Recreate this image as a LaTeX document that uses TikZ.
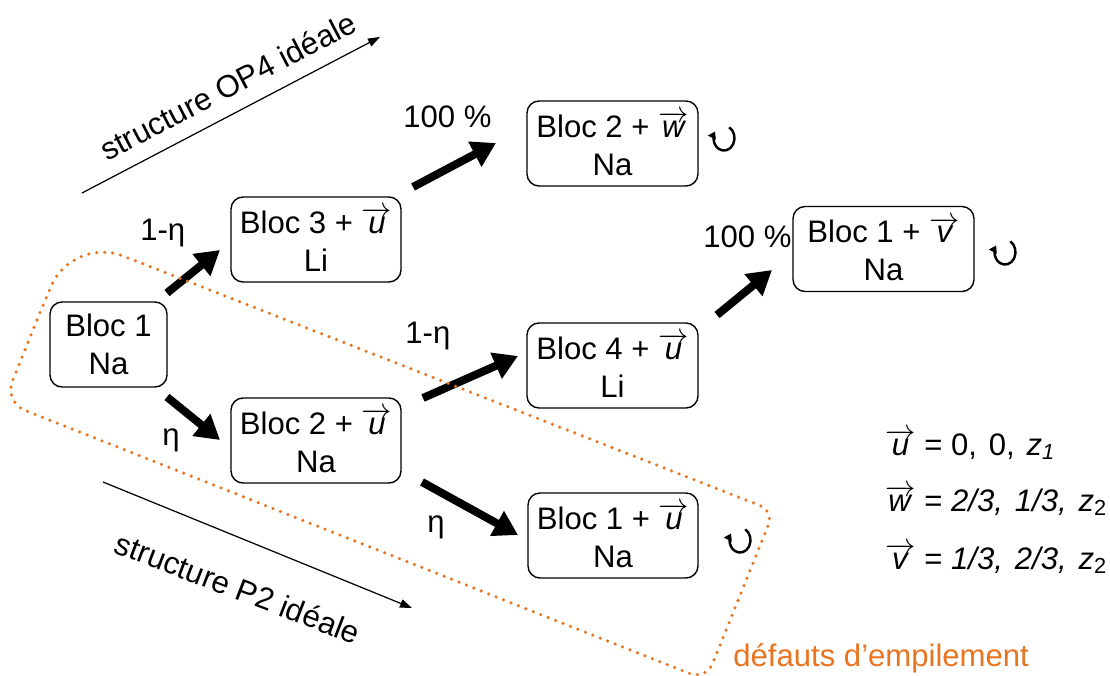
\documentclass[tikz,border=0pt]{standalone}
\usepackage{fontspec}
\setmainfont{Liberation Sans}
\usetikzlibrary{arrows.meta,calc}
\definecolor{defcol}{RGB}{232,116,32}
\newcommand{\vv}[1]{\ensuremath{\overrightarrow{\textit{#1}}}}
\newcommand{\lv}[1]{\ensuremath{\overrightarrow{\makebox[0.95em]{\textit{#1}}}}}
\newcommand{\sep}{,\hspace{0.38em}}
\newcommand{\rotsym}[1]{\draw[symline] ([shift={(0.105cm,0.215cm)}]#1) arc[start angle=60,end angle=-212,x radius=0.21cm,y radius=0.25cm];}
\begin{document}
\begin{tikzpicture}[x=0.02cm,y=-0.02cm,
  every node/.style={font=\fontsize{17.7pt}{21.5pt}\selectfont, inner sep=0pt},
  bloc/.style={draw, line width=0.8pt, rounded corners=0.24cm, minimum height=1.7cm, align=center},
  bigarrow/.style={line width=0.16cm, -{Triangle[length=0.48cm,width=0.54cm]}},
  thinarrow/.style={line width=0.7pt, -{Triangle[length=0.24cm,width=0.17cm]}},
  symline/.style={line width=1.4pt, -{Triangle[length=0.14cm,width=0.17cm]}},
  lbl/.style={anchor=base west}]
\useasboundingbox (0,0) rectangle (1110,676);

% boxes
\node[bloc, minimum width=2.34cm] (b1) at (108.5,344.5) {Bloc 1\\Na};
\node[bloc, minimum width=3.4cm] (b3) at (316,239.5) {Bloc 3 + \vv{u}\\Li};
\node[bloc, minimum width=3.4cm] (b2u) at (316,440.5) {Bloc 2 + \vv{u}\\Na};
\node[bloc, minimum width=3.42cm] (b2w) at (612.5,143.5) {Bloc 2 + \vv{w}\\Na};
\node[bloc, minimum width=3.42cm] (b4) at (612.5,365.5) {Bloc 4 + \vv{u}\\Li};
\node[bloc, minimum width=3.4cm] (b1u) at (613,535.5) {Bloc 1 + \vv{u}\\Na};
\node[bloc, minimum width=3.62cm] (b1v) at (883.5,249) {Bloc 1 + \vv{v}\\Na};

% big arrows
\coordinate (a1s) at (167,293); \coordinate (a1e) at (220,250);
\coordinate (a2s) at (167,397); \coordinate (a2e) at (220,440);
\coordinate (a3s) at (413,187); \coordinate (a3e) at (496,143);
\coordinate (a4s) at (423,398); \coordinate (a4e) at (518,356);
\coordinate (a5s) at (422,482); \coordinate (a5e) at (518,535);
\coordinate (a6s) at (717,315); \coordinate (a6e) at (772,270);
\draw[bigarrow] (a1s) -- (a1e);
\draw[bigarrow] (a2s) -- (a2e);
\draw[bigarrow] (a3s) -- (a3e);
\draw[bigarrow] (a4s) -- (a4e);
\draw[bigarrow] (a5s) -- (a5e);
\draw[bigarrow] (a6s) -- (a6e);

% labels
\node[lbl] (l1) at (140,240) {1-η};
\node[lbl] (l2) at (162,445) {η};
\node[lbl] (l3) at (403,127) {100 \%};
\node[lbl] (l4) at (405,343) {1-η};
\node[lbl] (l5) at (427,532) {η};
\node[lbl] (l6) at (703,247) {100 \%};

% rotation symbols
\coordinate (s1) at (724,138);
\coordinate (s2) at (1005,252);
\coordinate (s3) at (740,540);
\rotsym{s1}
\rotsym{s2}
\rotsym{s3}

% structure arrows
\coordinate (t1s) at (82,193); \coordinate (t1e) at (380,37);
\coordinate (t2s) at (103,482); \coordinate (t2e) at (412,608);
\draw[thinarrow] (t1s) -- (t1e);
\draw[thinarrow] (t2s) -- (t2e);
\node[rotate=27.5] (st1) at (228,86) {structure OP4 idéale};
\node[rotate=-21] (st2) at (238,588) {structure P2 idéale};

% stacking faults region
\draw[defcol, line width=2pt, line cap=round, dash pattern=on 0pt off 0.16cm]
  (37,320) [rounded corners=1.1cm] -- (72,236) [rounded corners=0.3cm] -- (774,511)
  [rounded corners=0.35cm] -- (706,680) [rounded corners=0.45cm] -- (4,402)
  [sharp corners] -- cycle;
\node[lbl, text=defcol] (def) at (733,666) {défauts d’empilement};

% legend
\node[lbl] (lu) at (885,455) {\lv{u} = 0\sep 0\sep \textit{z}\textsubscript{\textit{1}}};
\node[lbl] (lw) at (885,511) {\lv{w} = \textit{2/3\sep 1/3\sep z}\textsubscript{2}};
\node[lbl] (lvv) at (885,569) {\lv{v} = \textit{1/3\sep 2/3\sep z}\textsubscript{2}};
\end{tikzpicture}
\end{document}
